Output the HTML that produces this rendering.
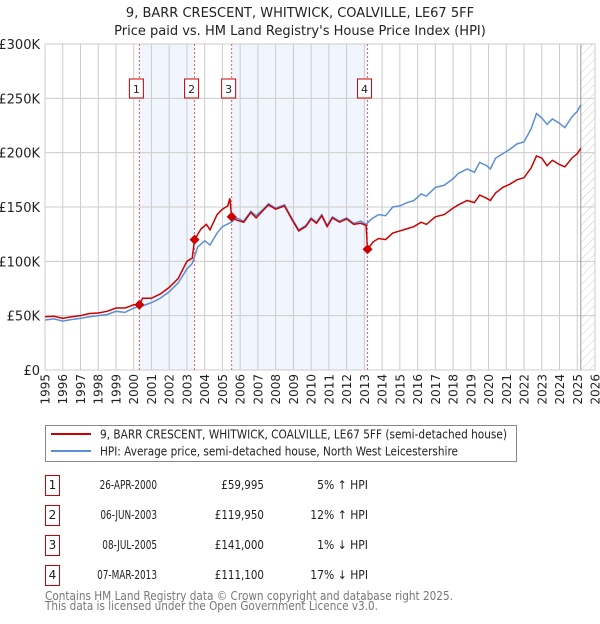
<!DOCTYPE html>
<html><head><meta charset="utf-8"><style>
body{margin:0;background:#fff;font-family:"DejaVu Sans","Liberation Sans",sans-serif;}
svg text{font-family:"DejaVu Sans","Liberation Sans",sans-serif;}
</style></head><body>
<svg id="chart" width="600" height="620" xmlns="http://www.w3.org/2000/svg">
<defs><pattern id="hatch" patternUnits="userSpaceOnUse" width="6" height="6" patternTransform="rotate(45)"><line x1="0" y1="0" x2="0" y2="6" stroke="#ccc" stroke-width="1"/></pattern></defs>
<text x="300" y="17" text-anchor="middle" font-size="13" fill="#222">9, BARR CRESCENT, WHITWICK, COALVILLE, LE67 5FF</text>
<text x="300" y="35" text-anchor="middle" font-size="13" fill="#222">Price paid vs. HM Land Registry's House Price Index (HPI)</text>
<g id="bands"></g><g id="grid"></g><g id="lines"></g><g id="marks"></g>
<g>
<rect x="45.5" y="425.5" width="471" height="36" fill="#fff" stroke="#888"/>
<line x1="51" y1="434" x2="91" y2="434" stroke="#cc0000" stroke-width="2"/>
<text x="100" y="438.5" font-size="12" fill="#222" textLength="407" lengthAdjust="spacingAndGlyphs">9, BARR CRESCENT, WHITWICK, COALVILLE, LE67 5FF (semi-detached house)</text>
<line x1="51" y1="451" x2="91" y2="451" stroke="#5b8ed6" stroke-width="2"/>
<text x="100" y="455.5" font-size="12" fill="#222" textLength="358" lengthAdjust="spacingAndGlyphs">HPI: Average price, semi-detached house, North West Leicestershire</text>
</g>
<g id="table" font-size="12" fill="#222"></g>
<text x="45" y="600" font-size="12" fill="#777" textLength="408" lengthAdjust="spacingAndGlyphs">Contains HM Land Registry data © Crown copyright and database right 2025.</text>
<text x="45" y="610" font-size="12" fill="#777" textLength="333" lengthAdjust="spacingAndGlyphs">This data is licensed under the Open Government Licence v3.0.</text>
</svg>
<script>
const hpiYears=[1995.0,1995.5,1996.0,1996.5,1997.0,1997.5,1998.0,1998.5,1999.0,1999.5,2000.0,2000.5,2001.0,2001.5,2002.0,2002.5,2003.0,2003.3,2003.6,2004.0,2004.3,2004.7,2005.0,2005.5,2005.8,2006.2,2006.6,2006.9,2007.3,2007.6,2008.0,2008.5,2008.9,2009.3,2009.7,2010.0,2010.3,2010.6,2010.9,2011.2,2011.6,2012.0,2012.4,2012.8,2013.1,2013.4,2013.8,2014.2,2014.6,2015.0,2015.4,2015.8,2016.2,2016.5,2017.0,2017.5,2018.0,2018.3,2018.8,2019.2,2019.5,2019.9,2020.1,2020.4,2020.8,2021.2,2021.6,2022.0,2022.4,2022.7,2023.0,2023.3,2023.6,2024.0,2024.3,2024.7,2025.0,2025.2];
const hpiValues=[46,47,45,46.5,47.5,49,50,51,54,53,57,59,62,66,72,80,93,98,113,119,115,126,132,136,140,137,146,142,148,153,149,152,140,129,133,140,136,143,133,141,137,140,135,137,134,139,143,142,150,151,154,156,162,160,168,170,176,181,185,182,191,188,185,195,199,203,208,210,222,236,232,226,231,227,223,233,238,244];
const priceYears=[1995.0,1995.5,1996.0,1996.5,1997.0,1997.5,1998.0,1998.5,1999.0,1999.5,2000.0,2000.32,2000.5,2001.0,2001.5,2002.0,2002.5,2003.0,2003.3,2003.43,2003.8,2004.1,2004.3,2004.7,2005.0,2005.3,2005.42,2005.52,2005.8,2006.2,2006.6,2006.9,2007.3,2007.6,2008.0,2008.5,2008.9,2009.3,2009.7,2010.0,2010.3,2010.6,2010.9,2011.2,2011.6,2012.0,2012.4,2012.8,2013.1,2013.18,2013.5,2013.8,2014.2,2014.6,2015.0,2015.4,2015.8,2016.2,2016.5,2017.0,2017.5,2018.0,2018.3,2018.8,2019.2,2019.5,2019.9,2020.1,2020.4,2020.8,2021.2,2021.6,2022.0,2022.4,2022.7,2023.0,2023.3,2023.6,2024.0,2024.3,2024.7,2025.0,2025.2];
const priceValues=[49,49.5,47.5,49,50,52,52.5,54,57,57,60,60,66,66,70,76,84,100,103,120,130,134,129,143,148,151,158,141,138,136,145,140,147,152,148,151,139,128,132,139,135,142,132,140,136,139,134,135,133,111,118,121,120,126,128,130,132,136,134,141,143,149,152,156,154,161,158,156,163,168,171,175,177,186,197,195,188,193,189,187,195,199,204];
const saleYears=[2000.32,2003.43,2005.52,2013.18];
const salePrices=[59995,119950,141000,111100];
const saleDates=["26-APR-2000","06-JUN-2003","08-JUL-2005","07-MAR-2013"];
const saleLabels=["£59,995","£119,950","£141,000","£111,100"];
const saleHpi=["5% ↑ HPI","12% ↑ HPI","1% ↓ HPI","17% ↓ HPI"];
const yTicks=[0,50,100,150,200,250,300];
const yTickLabels=["£0","£50K","£100K","£150K","£200K","£250K","£300K"];
const xTicks=[1995,1996,1997,1998,1999,2000,2001,2002,2003,2004,2005,2006,2007,2008,2009,2010,2011,2012,2013,2014,2015,2016,2017,2018,2019,2020,2021,2022,2023,2024,2025,2026];

const NS="http://www.w3.org/2000/svg";
const L=45,R=595,T=44,B=370;
const x=y=>L+(y-1995)*(R-L)/31;
const yv=v=>B-v*(B-T)/300;
function mk(tag,attrs,parent){const e=document.createElementNS(NS,tag);for(const k in attrs)e.setAttribute(k,attrs[k]);parent.appendChild(e);return e;}
const bands=document.getElementById('bands'),grid=document.getElementById('grid'),lines=document.getElementById('lines'),marks=document.getElementById('marks'),table=document.getElementById('table');
for(let i=0;i<saleYears.length-1;i+=2){
  const r=mk('rect',{x:x(saleYears[i]),y:T,width:x(saleYears[i+1])-x(saleYears[i]),height:B-T,fill:'#eef3fd',opacity:0.8},bands);
  
  
}
const hatch=mk('rect',{x:x(2025.2),y:T,width:R-x(2025.2),height:B-T,fill:'url(#hatch)'},bands);


yTicks.forEach((t,i)=>{
  const l=mk('line',{x1:L,x2:R,y1:yv(t),y2:yv(t),stroke:'#ccc','stroke-width':1},grid);
  
  
  const tx=mk('text',{x:L-5,y:yv(t)+5,'text-anchor':'end','font-size':13,fill:'#222'},grid);
  tx.textContent=yTickLabels[i];
  
  
});
xTicks.forEach(t=>{
  const l=mk('line',{x1:x(t),x2:x(t),y1:T,y2:B,stroke:'#ccc','stroke-width':1},grid);
  
  
  const tx=mk('text',{x:0,y:0,'text-anchor':'end','font-size':12,fill:'#222',transform:`translate(${x(t)+4.5},374) rotate(-90)`},grid);
  tx.textContent=t;
  
  
});
const nl=mk('line',{x1:x(2025.2),x2:x(2025.2),y1:T,y2:B,stroke:'#999','stroke-width':1},grid);


const hp=mk('polyline',{points:hpiYears.map((y,i)=>x(y)+','+yv(hpiValues[i])).join(' '),fill:'none',stroke:'#5b8ed6','stroke-width':1.5},lines);


const pp=mk('polyline',{points:priceYears.map((y,i)=>x(y)+','+yv(priceValues[i])).join(' '),fill:'none',stroke:'#cc0000','stroke-width':1.5},lines);


saleYears.forEach((s,i)=>{
  const X=x(s);
  const d=mk('line',{x1:X,x2:X,y1:T,y2:B,stroke:'#e06060','stroke-width':1,'stroke-dasharray':'2,2'},marks);
  
  
  const bx=mk('rect',{x:X-10,y:79,width:14,height:19,fill:'#fff',stroke:'#cc0000'},marks);
  
  
  const bt=mk('text',{x:X-3,y:93,'text-anchor':'middle','font-size':11,fill:'#222'},marks);
  bt.textContent=i+1;
  
  
  const Y=yv(salePrices[i]/1000);
  const p=mk('path',{d:`M${X},${Y-5}L${X+5},${Y}L${X},${Y+5}L${X-5},${Y}Z`,fill:'#cc0000'},marks);
  
  
  const ry=475+i*30;
  const tb=mk('rect',{x:45.5,y:ry+0.5,width:14,height:20,fill:'#fff',stroke:'#cc0000'},table);
  
  
  const cells=[[52.5,'middle',String(i+1),1],[157,'end',saleDates[i],0.74],[264,'end',saleLabels[i],0.86],[368,'end',saleHpi[i],0.9]];
  cells.forEach(c=>{
    const t=mk('text',{x:c[0],y:ry+14,'text-anchor':c[1],'font-size':12,fill:'#222'},table);
    t.textContent=c[2];
    
    
    if(c[3]!==1){const w=t.getComputedTextLength();if(w>0){t.setAttribute('textLength',(w*c[3]).toFixed(1));t.setAttribute('lengthAdjust','spacingAndGlyphs');}}
  });
});
const fr=mk('rect',{x:L,y:T,width:R-L,height:B-T,fill:'none',stroke:'#ccc'},grid);


</script>
</body></html>
